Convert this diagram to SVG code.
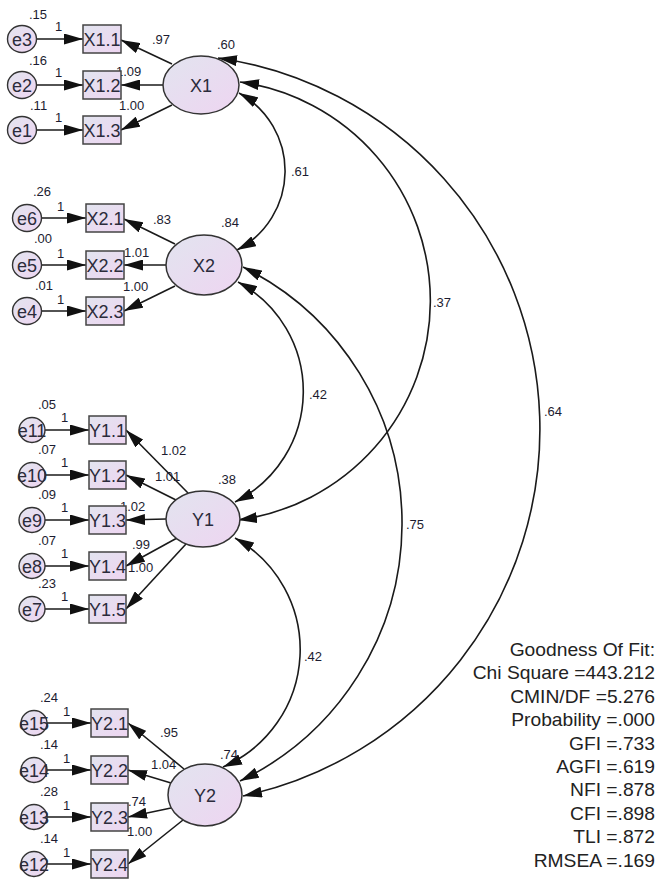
<svg xmlns="http://www.w3.org/2000/svg" width="658" height="884" viewBox="0 0 658 884">
<defs>
<linearGradient id="g" x1="0" y1="0" x2="1" y2="1">
<stop offset="0" stop-color="#e2e4ef"/>
<stop offset="1" stop-color="#eed5f1"/>
</linearGradient>
<marker id="ah" markerUnits="userSpaceOnUse" markerWidth="19" markerHeight="11" refX="19" refY="5.5" orient="auto-start-reverse" viewBox="0 0 19 11">
<path d="M0,0 L19,5.5 L0,11 z" fill="#111"/>
</marker>
<style>
.lat{fill:url(#g);stroke:#333;stroke-width:1.5}
.box{fill:url(#g);stroke:#444;stroke-width:1.5}
.err{fill:url(#g);stroke:#333;stroke-width:1.4}
.nt{font-family:"Liberation Sans",Arial,sans-serif;font-size:18px;fill:#2b2b3b;text-anchor:middle}
.sl{font-family:"Liberation Sans",Arial,sans-serif;font-size:13px;fill:#1c1c30}
.fit{font-family:"Liberation Sans",Arial,sans-serif;font-size:17.5px;fill:#222;text-anchor:end}
.c{fill:none;stroke:#1a1a1a;stroke-width:1.6;marker-end:url(#ah)}
.cv{fill:none;stroke:#1a1a1a;stroke-width:1.6;marker-start:url(#ah);marker-end:url(#ah)}
</style>
</defs>
<rect width="658" height="884" fill="#fff"/>

<g id="connectors">
<line class="c" x1="36" y1="39" x2="83" y2="39"/>
<line class="c" x1="36" y1="85" x2="83" y2="85"/>
<line class="c" x1="36" y1="130" x2="83" y2="130"/>
<line class="c" x1="41" y1="218" x2="86" y2="218"/>
<line class="c" x1="41" y1="265" x2="86" y2="265"/>
<line class="c" x1="41" y1="311" x2="86" y2="311"/>
<line class="c" x1="45" y1="430" x2="89" y2="430"/>
<line class="c" x1="45" y1="475" x2="89" y2="475"/>
<line class="c" x1="45" y1="520" x2="89" y2="520"/>
<line class="c" x1="45" y1="566" x2="89" y2="566"/>
<line class="c" x1="45" y1="609" x2="89" y2="609"/>
<line class="c" x1="47" y1="723" x2="91" y2="723"/>
<line class="c" x1="47" y1="770" x2="91" y2="770"/>
<line class="c" x1="47" y1="817" x2="91" y2="817"/>
<line class="c" x1="47" y1="864" x2="91" y2="864"/>
<line class="c" x1="172" y1="64" x2="121" y2="40"/>
<line class="c" x1="163" y1="85" x2="121" y2="85"/>
<line class="c" x1="172" y1="105" x2="121" y2="130"/>
<line class="c" x1="175" y1="244" x2="124" y2="219"/>
<line class="c" x1="166" y1="265" x2="124" y2="265"/>
<line class="c" x1="175" y1="286" x2="124" y2="311"/>
<line class="c" x1="188" y1="493" x2="126" y2="430"/>
<line class="c" x1="178" y1="501" x2="126" y2="475"/>
<line class="c" x1="166" y1="519" x2="126" y2="520"/>
<line class="c" x1="177" y1="538" x2="126" y2="566"/>
<line class="c" x1="186" y1="544" x2="126" y2="609"/>
<line class="c" x1="184" y1="769" x2="128" y2="723"/>
<line class="c" x1="171" y1="783" x2="128" y2="770"/>
<line class="c" x1="171" y1="808" x2="128" y2="817"/>
<line class="c" x1="183" y1="820" x2="128" y2="864"/>
<path class="cv" d="M239,93 A89,89 0 0 1 237,250"/>
<path class="cv" d="M240,82 A221,221 0 0 1 238,520"/>
<path class="cv" d="M218,58 A375,375 0 0 1 243,796"/>
<path class="cv" d="M238,282 A124,124 0 0 1 235,502"/>
<path class="cv" d="M243,267 A286,286 0 0 1 240,781"/>
<path class="cv" d="M235,538 A128,128 0 0 1 223,767"/>
</g>

<g id="edge-labels" class="sl">
<text x="29" y="19">.15</text><text x="55" y="31">1</text>
<text x="29" y="65">.16</text><text x="55" y="77">1</text>
<text x="30" y="110">.11</text><text x="55" y="122">1</text>
<text x="33" y="196">.26</text><text x="57" y="211">1</text>
<text x="34" y="243">.00</text><text x="57" y="258">1</text>
<text x="35" y="290">.01</text><text x="57" y="304">1</text>
<text x="38" y="409">.05</text><text x="61" y="422">1</text>
<text x="38" y="454">.07</text><text x="61" y="467">1</text>
<text x="38" y="499">.09</text><text x="61" y="512">1</text>
<text x="38" y="545">.07</text><text x="61" y="558">1</text>
<text x="38" y="588">.23</text><text x="61" y="601">1</text>
<text x="40" y="702">.24</text><text x="63" y="716">1</text>
<text x="40" y="749">.14</text><text x="63" y="763">1</text>
<text x="40" y="796">.28</text><text x="63" y="810">1</text>
<text x="40" y="843">.14</text><text x="63" y="857">1</text>
<text x="152" y="44">.97</text>
<text x="116" y="76">1.09</text>
<text x="119" y="110">1.00</text>
<text x="153" y="224">.83</text>
<text x="124" y="257">1.01</text>
<text x="123" y="291">1.00</text>
<text x="161" y="455">1.02</text>
<text x="155" y="481">1.01</text>
<text x="120" y="511">1.02</text>
<text x="132" y="549">.99</text>
<text x="128" y="572">1.00</text>
<text x="160" y="737">.95</text>
<text x="151" y="769">1.04</text>
<text x="128" y="806">.74</text>
<text x="127" y="836">1.00</text>
<text x="217" y="49">.60</text>
<text x="221" y="227">.84</text>
<text x="218" y="484">.38</text>
<text x="220" y="759">.74</text>
<text x="291" y="176">.61</text>
<text x="433" y="307">.37</text>
<text x="309" y="399">.42</text>
<text x="544" y="416">.64</text>
<text x="406" y="529">.75</text>
<text x="304" y="661">.42</text>
</g>

<g id="X1"><ellipse class="lat" cx="201" cy="85" rx="38" ry="29"/><text class="nt" x="201" y="91.5">X1</text></g>
<g id="X2"><ellipse class="lat" cx="204" cy="265" rx="38" ry="30"/><text class="nt" x="204" y="271.5">X2</text></g>
<g id="Y1"><ellipse class="lat" cx="203" cy="519" rx="37" ry="28"/><text class="nt" x="203" y="525.5">Y1</text></g>
<g id="Y2"><ellipse class="lat" cx="205" cy="795" rx="37" ry="31"/><text class="nt" x="205" y="801.5">Y2</text></g>

<g id="X1.1"><rect class="box" x="83" y="25" width="38" height="28"/><text class="nt" x="102" y="45.5">X1.1</text></g>
<g id="X1.2"><rect class="box" x="83" y="71" width="38" height="28"/><text class="nt" x="102" y="91.5">X1.2</text></g>
<g id="X1.3"><rect class="box" x="83" y="116" width="38" height="28"/><text class="nt" x="102" y="136.5">X1.3</text></g>
<g id="X2.1"><rect class="box" x="86" y="204" width="38" height="28"/><text class="nt" x="105" y="224.5">X2.1</text></g>
<g id="X2.2"><rect class="box" x="86" y="251" width="38" height="28"/><text class="nt" x="105" y="271.5">X2.2</text></g>
<g id="X2.3"><rect class="box" x="86" y="297" width="38" height="28"/><text class="nt" x="105" y="317.5">X2.3</text></g>
<g id="Y1.1"><rect class="box" x="89" y="416" width="37" height="28"/><text class="nt" x="107.5" y="436.5">Y1.1</text></g>
<g id="Y1.2"><rect class="box" x="89" y="461" width="37" height="28"/><text class="nt" x="107.5" y="481.5">Y1.2</text></g>
<g id="Y1.3"><rect class="box" x="89" y="506" width="37" height="28"/><text class="nt" x="107.5" y="526.5">Y1.3</text></g>
<g id="Y1.4"><rect class="box" x="89" y="552" width="37" height="28"/><text class="nt" x="107.5" y="572.5">Y1.4</text></g>
<g id="Y1.5"><rect class="box" x="89" y="595" width="37" height="28"/><text class="nt" x="107.5" y="615.5">Y1.5</text></g>
<g id="Y2.1"><rect class="box" x="91" y="709" width="37" height="28"/><text class="nt" x="109.5" y="729.5">Y2.1</text></g>
<g id="Y2.2"><rect class="box" x="91" y="756" width="37" height="28"/><text class="nt" x="109.5" y="776.5">Y2.2</text></g>
<g id="Y2.3"><rect class="box" x="91" y="803" width="37" height="28"/><text class="nt" x="109.5" y="823.5">Y2.3</text></g>
<g id="Y2.4"><rect class="box" x="91" y="850" width="37" height="28"/><text class="nt" x="109.5" y="870.5">Y2.4</text></g>

<g id="e3"><ellipse class="err" cx="22" cy="39" rx="14.5" ry="13.5"/><text class="nt" x="22" y="45.5">e3</text></g>
<g id="e2"><ellipse class="err" cx="22" cy="85" rx="14.5" ry="13.5"/><text class="nt" x="22" y="91.5">e2</text></g>
<g id="e1"><ellipse class="err" cx="22" cy="130" rx="14.5" ry="13.5"/><text class="nt" x="22" y="136.5">e1</text></g>
<g id="e6"><ellipse class="err" cx="27" cy="218" rx="14.5" ry="13.5"/><text class="nt" x="27" y="224.5">e6</text></g>
<g id="e5"><ellipse class="err" cx="27" cy="265" rx="14.5" ry="13.5"/><text class="nt" x="27" y="271.5">e5</text></g>
<g id="e4"><ellipse class="err" cx="27" cy="311" rx="14.5" ry="13.5"/><text class="nt" x="27" y="317.5">e4</text></g>
<g id="e11"><ellipse class="err" cx="32" cy="430" rx="13" ry="12.5"/><text class="nt" x="32" y="436.5">e11</text></g>
<g id="e10"><ellipse class="err" cx="32" cy="475" rx="13" ry="12.5"/><text class="nt" x="32" y="481.5">e10</text></g>
<g id="e9"><ellipse class="err" cx="32" cy="520" rx="13" ry="12.5"/><text class="nt" x="32" y="526.5">e9</text></g>
<g id="e8"><ellipse class="err" cx="32" cy="566" rx="13" ry="12.5"/><text class="nt" x="32" y="572.5">e8</text></g>
<g id="e7"><ellipse class="err" cx="32" cy="609" rx="13" ry="12.5"/><text class="nt" x="32" y="615.5">e7</text></g>
<g id="e15"><ellipse class="err" cx="34" cy="723" rx="13" ry="12.5"/><text class="nt" x="34" y="729.5">e15</text></g>
<g id="e14"><ellipse class="err" cx="34" cy="770" rx="13" ry="12.5"/><text class="nt" x="34" y="776.5">e14</text></g>
<g id="e13"><ellipse class="err" cx="34" cy="817" rx="13" ry="12.5"/><text class="nt" x="34" y="823.5">e13</text></g>
<g id="e12"><ellipse class="err" cx="34" cy="864" rx="13" ry="12.5"/><text class="nt" x="34" y="870.5">e12</text></g>

<g id="fit" transform="translate(655,0) scale(1.1,1)" class="fit">
<text x="0" y="656">Goodness Of Fit:</text>
<text x="0" y="679.4">Chi Square =443.212</text>
<text x="0" y="702.8">CMIN/DF =5.276</text>
<text x="0" y="726.2">Probability =.000</text>
<text x="0" y="749.6">GFI =.733</text>
<text x="0" y="773">AGFI =.619</text>
<text x="0" y="796.4">NFI =.878</text>
<text x="0" y="819.8">CFI =.898</text>
<text x="0" y="843.2">TLI =.872</text>
<text x="0" y="866.6">RMSEA =.169</text>
</g>
</svg>
